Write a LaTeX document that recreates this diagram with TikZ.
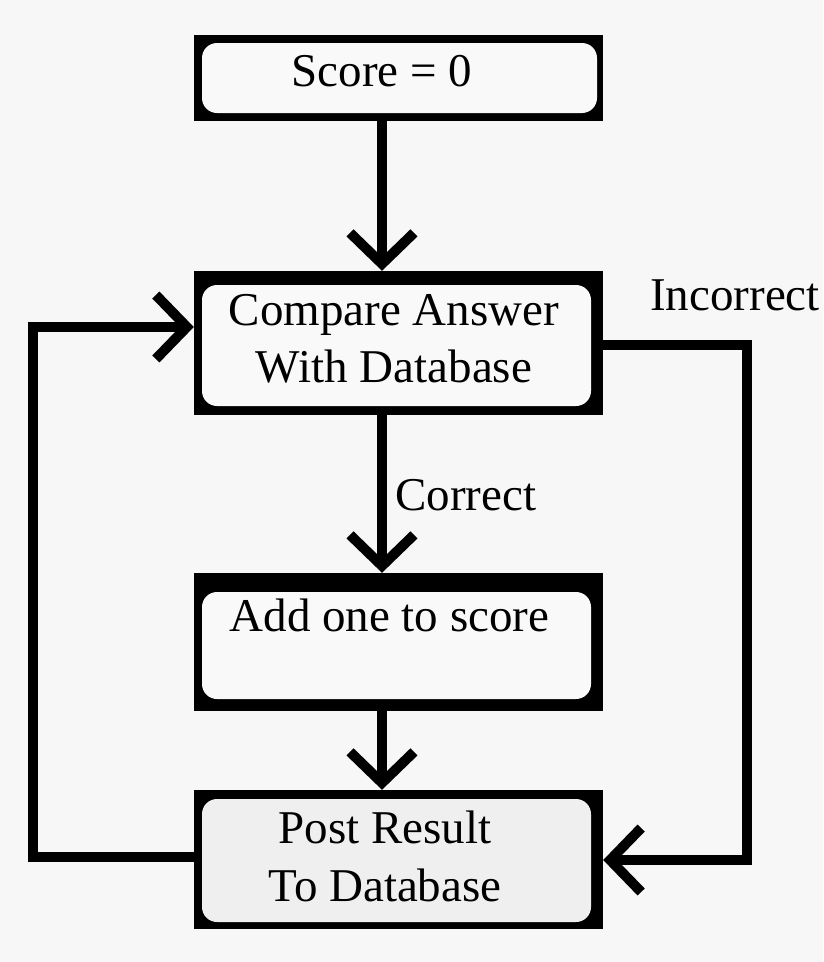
\documentclass[tikz,border=0pt]{standalone}
\usepackage{fontspec}
\setmainfont{Liberation Serif}
\usetikzlibrary{arrows.meta}
\definecolor{paper}{HTML}{F7F7F7}
\definecolor{panel}{HTML}{F9F9F9}
\definecolor{panelgray}{HTML}{EFEFEF}
\tikzset{
  outerbox/.style={rectangle, fill=black, draw=none, inner sep=0pt, minimum width=409pt},
  innerbox/.style={fill=panel, draw=none, rounded corners=15pt},
  label/.style={font=\fontsize{47}{57}\selectfont, inner sep=0pt, align=center},
  flow/.style={line width=10pt, line join=miter,
    -{Straight Barb[length=31pt, width=64pt, line width=10pt, sharp]}},
  link/.style={line width=10pt, line join=miter},
}
\begin{document}
\begin{tikzpicture}[x=1pt, y=-1pt]
  % canvas
  \fill[paper] (0,0) rectangle (823,962);
  \useasboundingbox (0,0) rectangle (823,962);

  % framed blocks: black frame with a rounded panel inside
  \node[outerbox, minimum height=86pt]  (score)   at (398.5,78)  {};
  \node[outerbox, minimum height=144pt] (compare) at (398.5,343) {};
  \node[outerbox, minimum height=138pt] (addone)  at (398.5,642) {};
  \node[outerbox, minimum height=139pt] (post)    at (398.5,859.5) {};

  \fill[innerbox] (202,43) rectangle (597,113);
  \fill[innerbox] (202,285) rectangle (591,406);
  \fill[innerbox] (202,592) rectangle (591,699);
  \fill[innerbox, fill=panelgray] (202,799) rectangle (591,922);

  % block texts
  \node[label, anchor=base] (tscore) at (382,86) {Score = 0};
  \node[label, anchor=base] (tcmp1) at (394,325) {Compare Answer};
  \node[label, anchor=base] (tcmp2) at (394,382) {With Database};
  \node[label, anchor=base] (tadd) at (389.5,631) {Add one to score};
  \node[label, anchor=base] (tpost1) at (385,843) {Post Result};
  \node[label, anchor=base] (tpost2) at (385,901) {To Database};

  % edge labels
  \node[label, anchor=base west] (lcorrect) at (395,510) {Correct};
  \node[label, anchor=base west] (lincorrect) at (650,310) {Incorrect};

  % routing helpers
  \coordinate (shaft) at (382,0);
  \coordinate (leftrail) at (33,0);
  \coordinate (rightrail) at (747,0);
  \coordinate (backrow) at (0,327);
  \coordinate (postrowL) at (0,857);
  \coordinate (outrow) at (0,345);
  \coordinate (postrowR) at (0,860);

  % connectors
  \draw[flow] (score.south -| shaft) -- (compare.north -| shaft);
  \draw[flow] (compare.south -| shaft) -- (addone.north -| shaft);
  \draw[flow] (addone.south -| shaft) -- (post.north -| shaft);
  \draw[flow] (post.west |- postrowL) -- (leftrail |- postrowL)
              -- (leftrail |- backrow) -- (compare.west |- backrow);
  \draw[flow] (compare.east |- outrow) -- (rightrail |- outrow)
              -- (rightrail |- postrowR) -- (post.east |- postrowR);
\end{tikzpicture}
\end{document}
